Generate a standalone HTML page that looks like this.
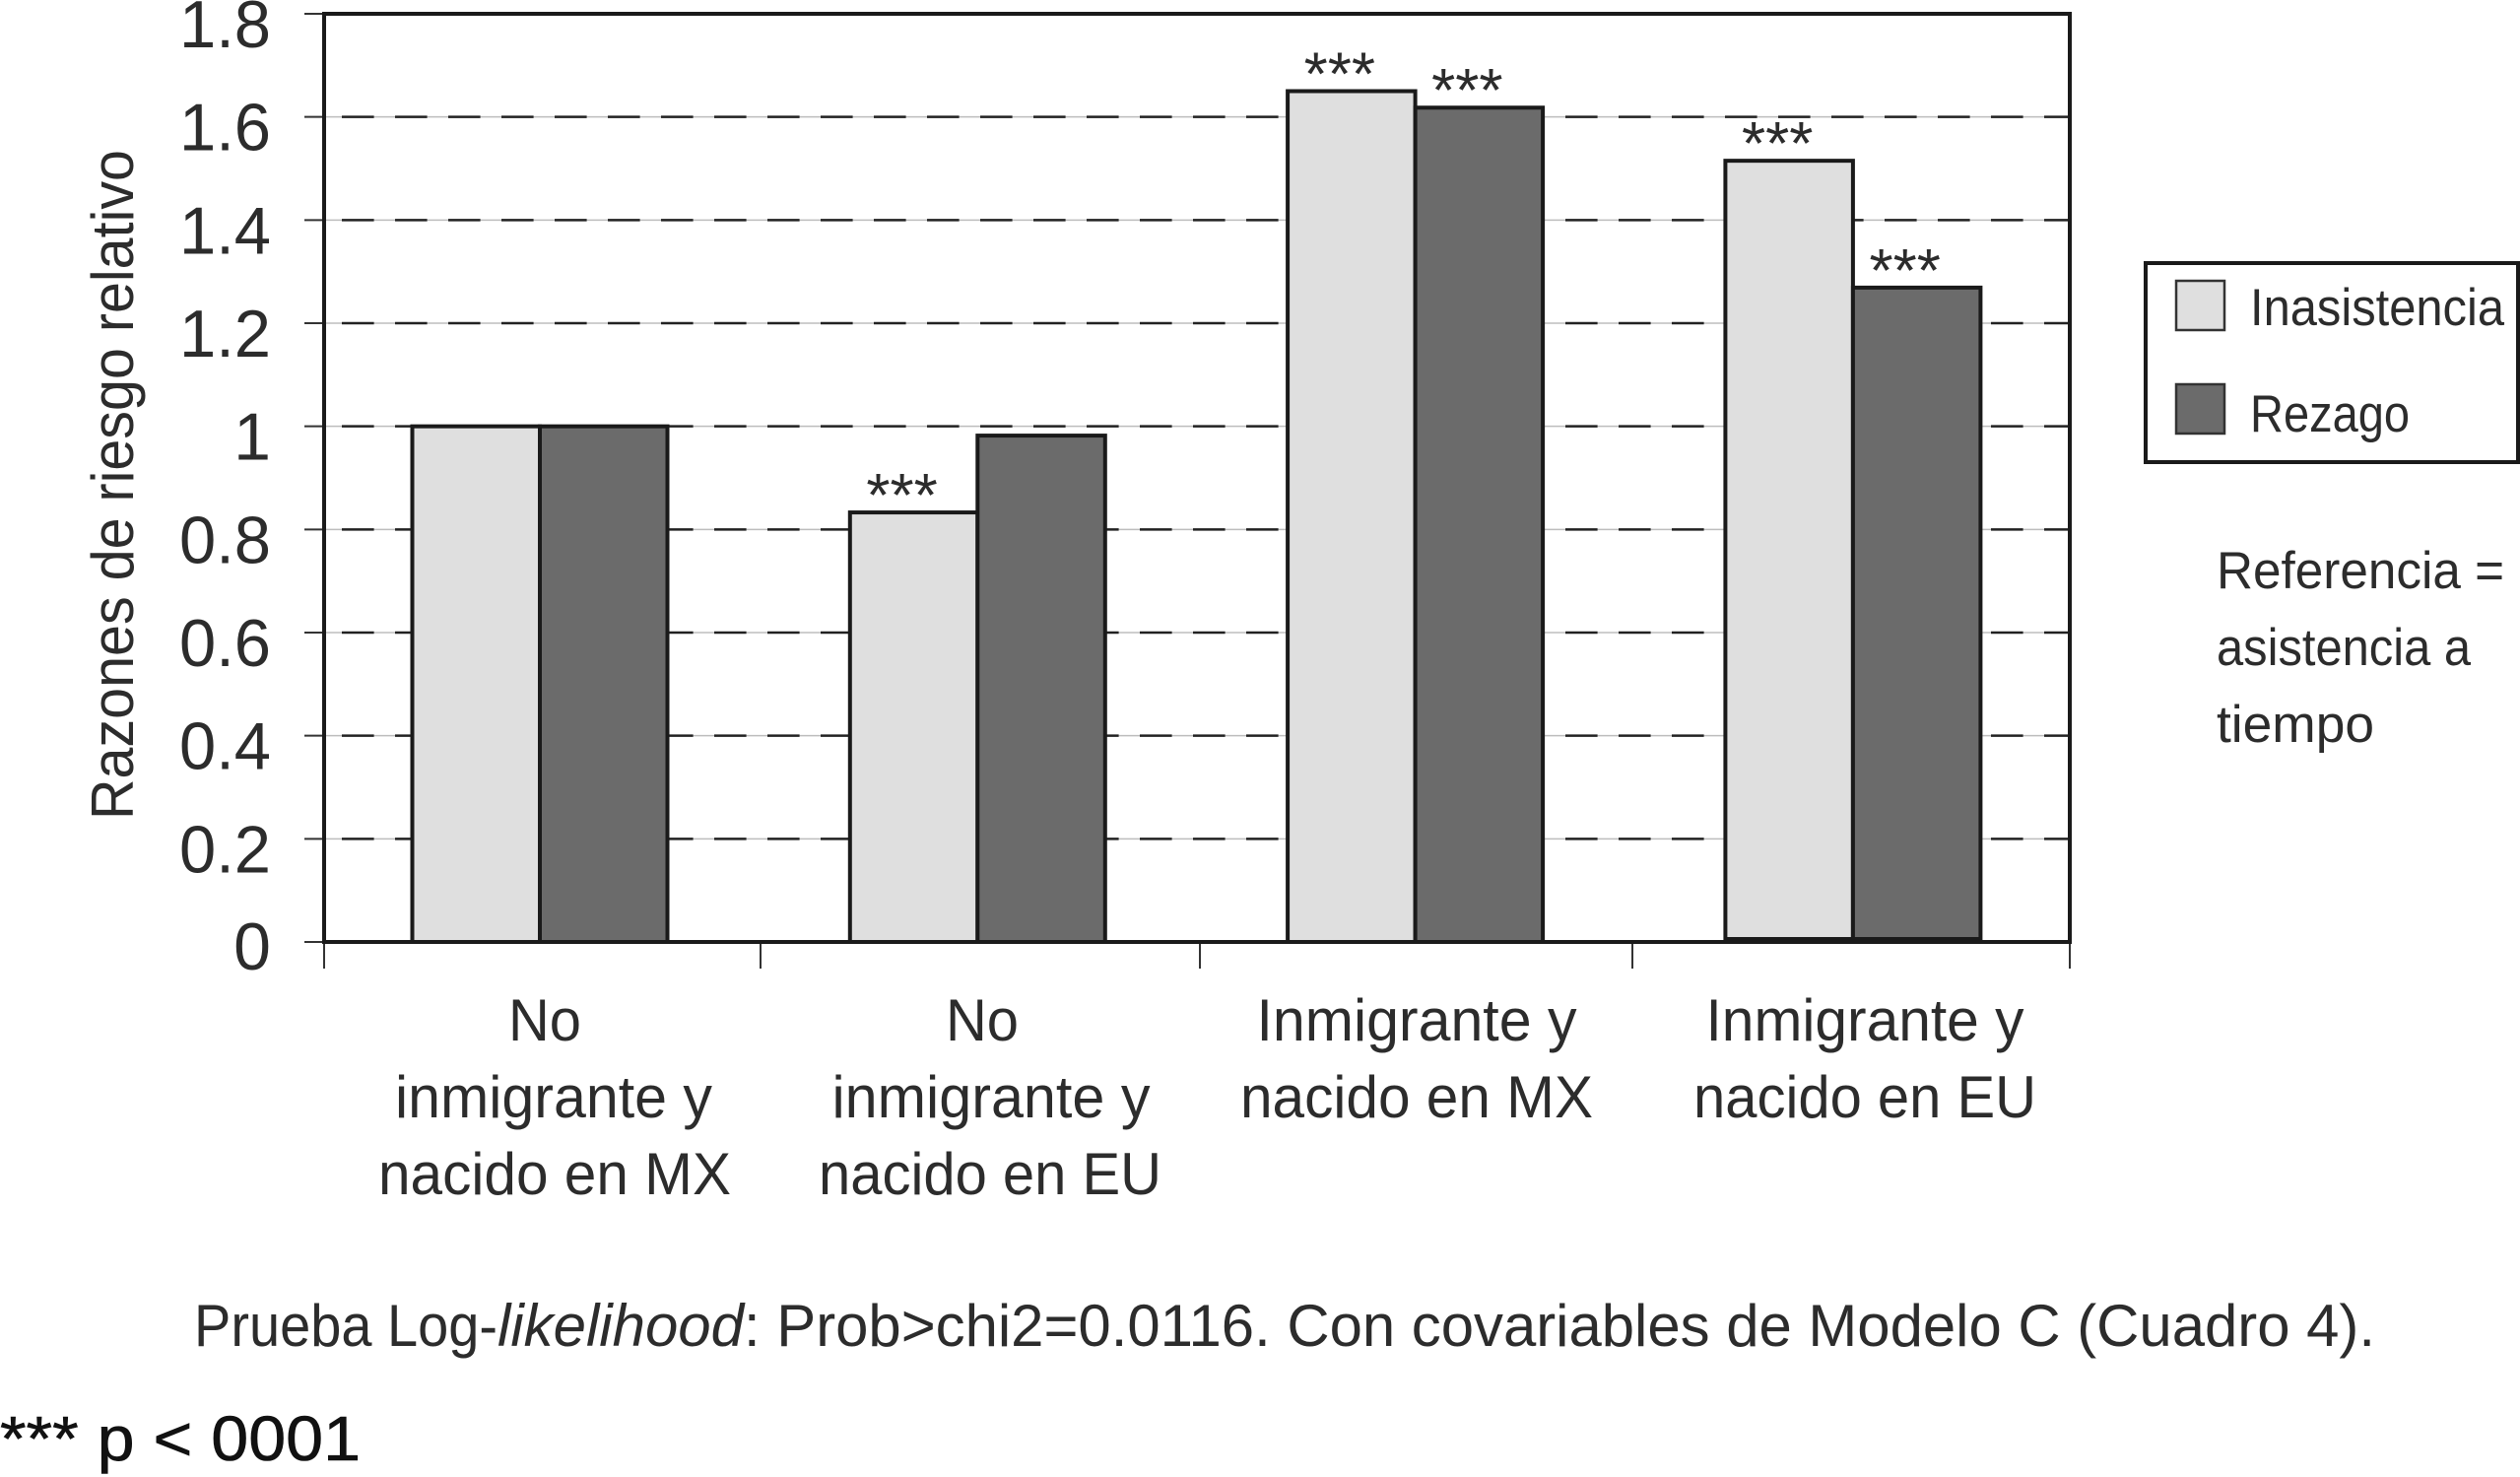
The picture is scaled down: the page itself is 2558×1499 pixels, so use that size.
<!DOCTYPE html>
<html lang="es">
<head>
<meta charset="utf-8">
<title>Razones de riesgo relativo</title>
<style>
html,body{margin:0;padding:0;background:#fff;}
svg{display:block;}
text{font-family:"Liberation Sans",sans-serif;fill:#2c2c2c;}
</style>
</head>
<body>
<svg id="chart" xmlns="http://www.w3.org/2000/svg" width="2558" height="1499" viewBox="0 0 2558 1499">
  <rect x="0" y="0" width="2558" height="1499" fill="#fff"/>
  <g id="grid"></g>
  <g id="ticks"></g>
  <g stroke="#333" stroke-width="2">
    <line x1="329" x2="329" y1="956" y2="983"/>
    <line x1="772" x2="772" y1="956" y2="983"/>
    <line x1="1218" x2="1218" y1="956" y2="983"/>
    <line x1="1657" x2="1657" y1="956" y2="983"/>
    <line x1="2101" x2="2101" y1="956" y2="983"/>
  </g>
  <rect x="329" y="14" width="1772" height="942" fill="none" stroke="#1a1a1a" stroke-width="4"/>
  <g id="bars"></g>
  <g id="stars"></g>

  <text transform="translate(135,832) rotate(-90)" font-size="60" textLength="680" lengthAdjust="spacingAndGlyphs">Razones de riesgo relativo</text>

  <g font-size="60" text-anchor="middle">
    <text x="553" y="1056" textLength="74" lengthAdjust="spacingAndGlyphs">No</text>
    <text x="562" y="1134" textLength="322" lengthAdjust="spacingAndGlyphs">inmigrante y</text>
    <text x="563" y="1212" textLength="358" lengthAdjust="spacingAndGlyphs">nacido en MX</text>
  </g>
  <g font-size="60" text-anchor="middle">
    <text x="997" y="1056" textLength="74" lengthAdjust="spacingAndGlyphs">No</text>
    <text x="1006" y="1134" textLength="323" lengthAdjust="spacingAndGlyphs">inmigrante y</text>
    <text x="1005" y="1212" textLength="348" lengthAdjust="spacingAndGlyphs">nacido en EU</text>
  </g>
  <g font-size="60" text-anchor="middle">
    <text x="1438" y="1056" textLength="325" lengthAdjust="spacingAndGlyphs">Inmigrante y</text>
    <text x="1438" y="1134" textLength="358" lengthAdjust="spacingAndGlyphs">nacido en MX</text>
  </g>
  <g font-size="60" text-anchor="middle">
    <text x="1893" y="1056" textLength="323" lengthAdjust="spacingAndGlyphs">Inmigrante y</text>
    <text x="1893" y="1134" textLength="348" lengthAdjust="spacingAndGlyphs">nacido en EU</text>
  </g>

  <g>
    <rect x="2178" y="267" width="378" height="202" fill="#fff" stroke="#1a1a1a" stroke-width="4"/>
    <rect x="2209" y="285" width="49" height="50" fill="#dfdfdf" stroke="#333" stroke-width="2.5"/>
    <text x="2284" y="330" font-size="53" textLength="258" lengthAdjust="spacingAndGlyphs">Inasistencia</text>
    <rect x="2209" y="390" width="49" height="50" fill="#6b6b6b" stroke="#333" stroke-width="2.5"/>
    <text x="2284" y="438" font-size="53" textLength="162" lengthAdjust="spacingAndGlyphs">Rezago</text>
  </g>

  <g font-size="53">
    <text x="2250" y="597" textLength="292" lengthAdjust="spacingAndGlyphs">Referencia =</text>
    <text x="2250" y="675" textLength="258" lengthAdjust="spacingAndGlyphs">asistencia a</text>
    <text x="2250" y="753" textLength="160" lengthAdjust="spacingAndGlyphs">tiempo</text>
  </g>

  <g font-size="60">
    <text x="197" y="1366" textLength="308" lengthAdjust="spacingAndGlyphs">Prueba Log-</text>
    <text x="505" y="1366" textLength="250" lengthAdjust="spacingAndGlyphs" font-style="italic">likelihood</text>
    <text x="755" y="1366" textLength="1656" lengthAdjust="spacingAndGlyphs">: Prob&gt;chi2=0.0116. Con covariables de Modelo C (Cuadro 4).</text>
  </g>

  <text x="0" y="1482" font-size="64" textLength="366" lengthAdjust="spacingAndGlyphs" style="fill:#111;stroke:#111;stroke-width:0.6">*** p &lt; 0001</text>
</svg>
<script>
const categories = ['No inmigrante y nacido en MX', 'No inmigrante y nacido en EU', 'Inmigrante y nacido en MX', 'Inmigrante y nacido en EU'];
const inasistencia = [1, 0.833, 1.65, 1.515];
const rezago = [1, 0.982, 1.618, 1.269];
const inasistenciaStars = ['', '***', '***', '***'];
const rezagoStars = ['', '', '***', '***'];
const tickValues = [0, 0.2, 0.4, 0.6, 0.8, 1, 1.2, 1.4, 1.6, 1.8];
const tickLabels = ['0', '0.2', '0.4', '0.6', '0.8', '1', '1.2', '1.4', '1.6', '1.8'];

const NS = 'http://www.w3.org/2000/svg';
const plot = {left: 329, right: 2101, top: 14, bottom: 956};
const yMax = 1.8;
const barW = 129.5;
function yScale(v) {
  return plot.bottom - (v / yMax) * (plot.bottom - plot.top);
}
function groupCenter(i) {
  return 548 + 444.3 * i;
}
function make(parent, tag, attrs, text) {
  const el = document.createElementNS(NS, tag);
  for (const k in attrs) el.setAttribute(k, attrs[k]);
  if (text !== undefined) el.textContent = text;
  parent.appendChild(el);
  return el;
}
const gridG = document.getElementById('grid');
const ticksG = document.getElementById('ticks');
const barsG = document.getElementById('bars');
const starsG = document.getElementById('stars');

tickValues.forEach(function (v, i) {
  const y = yScale(v);
  if (v > 0 && v < yMax) {
    const base = make(gridG, 'line', {x1: plot.left, x2: plot.right, y1: y, y2: y, stroke: '#bdbdbd', 'stroke-width': 1.5});
    
    
    const dash = make(gridG, 'line', {x1: 347, x2: plot.right, y1: y, y2: y, stroke: '#222', 'stroke-width': 2.5, 'stroke-dasharray': '32.6 21.4'});
    
    
  }
  const tick = make(ticksG, 'line', {x1: 309, x2: plot.left, y1: y, y2: y, stroke: '#333', 'stroke-width': 2});
  
  
  const attrs = {x: 275, y: y + (v === 0 ? 28 : 34), 'font-size': 68, 'text-anchor': 'end'};
  if (tickLabels[i].length > 1) {
    attrs.textLength = 93;
    attrs.lengthAdjust = 'spacingAndGlyphs';
  }
  const label = make(ticksG, 'text', attrs, tickLabels[i]);
  
  
});

function drawBar(i, v, x, fill, seriesName, star) {
  const top = yScale(v);
  const bar = make(barsG, 'rect', {x: x, y: top, width: barW, height: plot.bottom - top, fill: fill, stroke: '#1a1a1a', 'stroke-width': 4});
  
  
  if (star) {
    const s = make(starsG, 'text', {x: x + barW / 2 - 12, y: top + 4, 'font-size': 62, 'text-anchor': 'middle'}, star);
    
    
  }
}
categories.forEach(function (c, i) {
  const cx = groupCenter(i);
  drawBar(i, inasistencia[i], cx - barW, '#dfdfdf', 'inasistencia', inasistenciaStars[i]);
  drawBar(i, rezago[i], cx, '#6b6b6b', 'rezago', rezagoStars[i]);
  if (i === categories.length - 1) {
    const foot = make(barsG, 'rect', {x: cx - barW, y: plot.bottom - 5, width: barW * 2, height: 6, fill: '#1a1a1a'});
    
    
  }
});
</script>
</body>
</html>
